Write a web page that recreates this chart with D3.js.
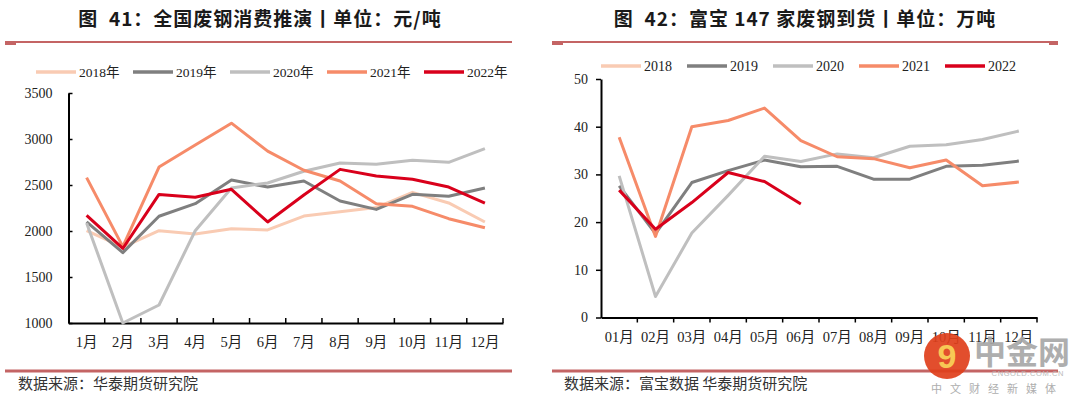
<!DOCTYPE html>
<html>
<head>
<meta charset="utf-8">
<script src="https://cdn.jsdelivr.net/npm/d3@7"></script>
<style>
  body { margin: 0; background: #fff; }
  svg { display: block; }
  .title { font-family: "Noto Sans CJK SC", sans-serif; font-weight: bold; font-size: 19px; fill: #1a1a1a; letter-spacing: 1px; white-space: pre; }
  .src { font-family: "Noto Sans CJK SC", sans-serif; font-size: 15px; fill: #333; }
  .lab { font-family: "Liberation Serif", "Noto Sans CJK SC", serif; fill: #222; }
</style>
</head>
<body>
<div class="container"></div>
<script>
// Canvas
const width = 1080;
const height = 404;

// Left chart data: 全国废钢消费推演 (元/吨)
const monthsA = ["1月", "2月", "3月", "4月", "5月", "6月", "7月", "8月", "9月", "10月", "11月", "12月"];
const yTicksA = [1000, 1500, 2000, 2500, 3000, 3500];
const a2018 = [2005, 1825, 2003, 1968, 2025, 2012, 2162, 2210, 2255, 2420, 2305, 2098];
const a2019 = [2100, 1765, 2160, 2297, 2555, 2478, 2543, 2326, 2235, 2399, 2378, 2467];
const a2020 = [2088, 1000, 1196, 2003, 2468, 2522, 2650, 2739, 2725, 2768, 2746, 2895];
const a2021 = [2580, 1830, 2695, 2935, 3172, 2868, 2660, 2543, 2297, 2268, 2134, 2036];
const a2022 = [2170, 1810, 2398, 2366, 2453, 2098, 2392, 2670, 2598, 2562, 2478, 2304];

// Right chart data: 富宝147家废钢到货 (万吨)
const monthsB = ["01月", "02月", "03月", "04月", "05月", "06月", "07月", "08月", "09月", "10月", "11月", "12月"];
const yTicksB = [0, 10, 20, 30, 40, 50];
const b2018 = [];
const b2019 = [27.6, 17.6, 28.3, 30.8, 33.0, 31.6, 31.7, 29.0, 29.0, 31.7, 31.9, 32.8];
const b2020 = [29.7, 4.4, 17.7, 25.6, 33.8, 32.7, 34.3, 33.5, 35.9, 36.2, 37.3, 39.1];
const b2021 = [37.8, 17.0, 40.0, 41.3, 43.9, 37.1, 33.7, 33.3, 31.4, 33.0, 27.6, 28.4];
const b2022 = [26.7, 18.5, 24.1, 30.4, 28.5, 23.8];

const years = ["2018", "2019", "2020", "2021", "2022"];
const colors = ["#f9cbb3", "#7f7f7f", "#bfbfbf", "#f68b69", "#d9001b"];
const ruleColor = "#c46464";

const svg = d3.select(".container").append("svg")
    .attr("width", width)
    .attr("height", height);

function panel(opt) {
  const g = svg.append("g");

  // title
  g.append("text").attr("class", "title")
      .attr("x", opt.titleX).attr("y", 26)
      .attr("text-anchor", "middle")
      .text(opt.title);

  // rules under title and above source
  g.append("rect").attr("x", opt.ruleX0).attr("y", 41).attr("width", opt.ruleX1 - opt.ruleX0).attr("height", 2).attr("fill", ruleColor);
  g.append("rect").attr("x", opt.ruleX0).attr("y", 41).attr("width", 11).attr("height", 4).attr("fill", ruleColor);
  if (opt.rightCap) {
    g.append("rect").attr("x", opt.ruleX1 - 9).attr("y", 41).attr("width", 9).attr("height", 4).attr("fill", ruleColor);
  }
  g.append("rect").attr("x", opt.ruleX0).attr("y", 369.5).attr("width", opt.ruleX1 - opt.ruleX0).attr("height", 3).attr("fill", ruleColor);

  g.append("text").attr("class", "src")
      .attr("x", opt.srcX).attr("y", 389)
      .text(opt.source);

  // scales
  const x = d3.scaleBand().domain(opt.months).range(opt.xRange);
  const y = d3.scaleLinear().domain(opt.yDomain).range(opt.yRange);

  // legend
  const lg = g.append("g").attr("transform", `translate(${opt.legendX},${opt.legendY})`);
  years.forEach(function(yr, i) {
    const item = lg.append("g").attr("transform", `translate(${i * opt.legendStep},0)`);
    item.append("line").attr("x1", 0).attr("x2", 40).attr("y1", 0).attr("y2", 0)
        .attr("stroke", colors[i]).attr("stroke-width", 3.5);
    item.append("text").attr("class", "lab")
        .attr("x", 43).attr("y", 5)
        .attr("font-size", opt.legendFont)
        .text(yr + opt.legendSuffix);
  });

  // y axis
  const inward = opt.inward;
  const yAxis = g.append("g")
      .attr("transform", `translate(${opt.xRange[0]},0)`)
      .call(d3.axisLeft(y).tickValues(opt.yTicks).tickFormat(d3.format("d"))
        .tickSizeInner(inward ? -4 : 5).tickSizeOuter(0).tickPadding(inward ? 16 : 8));
  yAxis.select(".domain").attr("stroke", "#000").attr("stroke-width", 2);
  yAxis.selectAll(".tick line").attr("stroke", "#000").attr("stroke-width", 1.5);
  yAxis.selectAll(".tick text").attr("class", "lab").attr("font-size", opt.yFont).attr("fill", "#222");

  // x axis: labels at band centers, ticks at band edges
  const xAxis = g.append("g")
      .attr("transform", `translate(0,${opt.yRange[0]})`)
      .call(d3.axisBottom(x).tickSize(0).tickPadding(opt.xPad));
  xAxis.select(".domain").attr("stroke", "#000").attr("stroke-width", 2);
  xAxis.selectAll(".tick text").attr("class", "lab").attr("font-size", opt.xFont).attr("fill", "#222");

  const edges = opt.months.map(m => x(m)).slice(1).concat([opt.xRange[1]]);
  g.append("g").selectAll("line")
    .data(edges)
    .enter().append("line")
      .attr("x1", d => d).attr("x2", d => d)
      .attr("y1", opt.yRange[0])
      .attr("y2", opt.yRange[0] + (inward ? -5 : 5))
      .attr("stroke", "#000").attr("stroke-width", 1.5);

  // series
  const line = d3.line()
      .x((d, i) => x(opt.months[i]) + x.bandwidth() / 2)
      .y(d => y(d));

  g.append("g").selectAll("path")
    .data(opt.series)
    .enter().append("path")
      .attr("d", d => d.length ? line(d) : null)
      .attr("fill", "none")
      .attr("stroke", (d, i) => colors[i])
      .attr("stroke-width", 3)
      .attr("stroke-linejoin", "round");

  return g;
}

panel({
  title: "图\u00a0\u00a041：全国废钢消费推演丨单位：元/吨",
  titleX: 260,
  ruleX0: 5, ruleX1: 512, rightCap: false,
  source: "数据来源：华泰期货研究院",
  srcX: 18,
  months: monthsA,
  xRange: [68.5, 503],
  yDomain: [1000, 3500],
  yRange: [323, 93],
  yTicks: yTicksA,
  legendX: 36, legendY: 72, legendStep: 97, legendFont: 13.5, legendSuffix: "年",
  inward: true,
  yFont: 14, xFont: 14.5, xPad: 14,
  series: [a2018, a2019, a2020, a2021, a2022]
});

panel({
  title: "图\u00a0\u00a042：富宝 147 家废钢到货丨单位：万吨",
  titleX: 805,
  ruleX0: 552, ruleX1: 1058, rightCap: true,
  source: "数据来源：富宝数据 华泰期货研究院",
  srcX: 564,
  months: monthsB,
  xRange: [601, 1037],
  yDomain: [0, 50],
  yRange: [317.5, 79],
  yTicks: yTicksB,
  legendX: 601, legendY: 66, legendStep: 86, legendFont: 14, legendSuffix: "",
  inward: false,
  yFont: 14, xFont: 14.5, xPad: 14,
  series: [b2018, b2019, b2020, b2021, b2022]
});

// watermark in the lower right corner
const wm = svg.append("g").attr("opacity", 0.92);
wm.append("circle").attr("cx", 947).attr("cy", 356).attr("r", 23).attr("fill", "#e0401c");
wm.append("text").attr("x", 947).attr("y", 368).attr("text-anchor", "middle")
    .attr("font-family", "Liberation Sans, sans-serif").attr("font-weight", "bold")
    .attr("font-size", 34).attr("fill", "#f7c447").text("9");
wm.append("text").attr("x", 974).attr("y", 364)
    .attr("font-family", "Noto Sans CJK SC, sans-serif").attr("font-weight", "bold")
    .attr("font-size", 32).attr("fill", "#a8a8a8").text("中金网");
wm.append("text").attr("x", 1064).attr("y", 376).attr("text-anchor", "end")
    .attr("font-family", "Liberation Sans, sans-serif")
    .attr("font-size", 7.5).attr("fill", "#b5b5b5").attr("letter-spacing", 0.6).text("CNGOLD.COM.CN");
wm.append("text").attr("x", 1064).attr("y", 393).attr("text-anchor", "end")
    .attr("font-family", "Noto Sans CJK SC, sans-serif")
    .attr("font-size", 11).attr("fill", "#a8a8a8").attr("letter-spacing", 8).text("中文财经新媒体");
</script>
</body>
</html>
